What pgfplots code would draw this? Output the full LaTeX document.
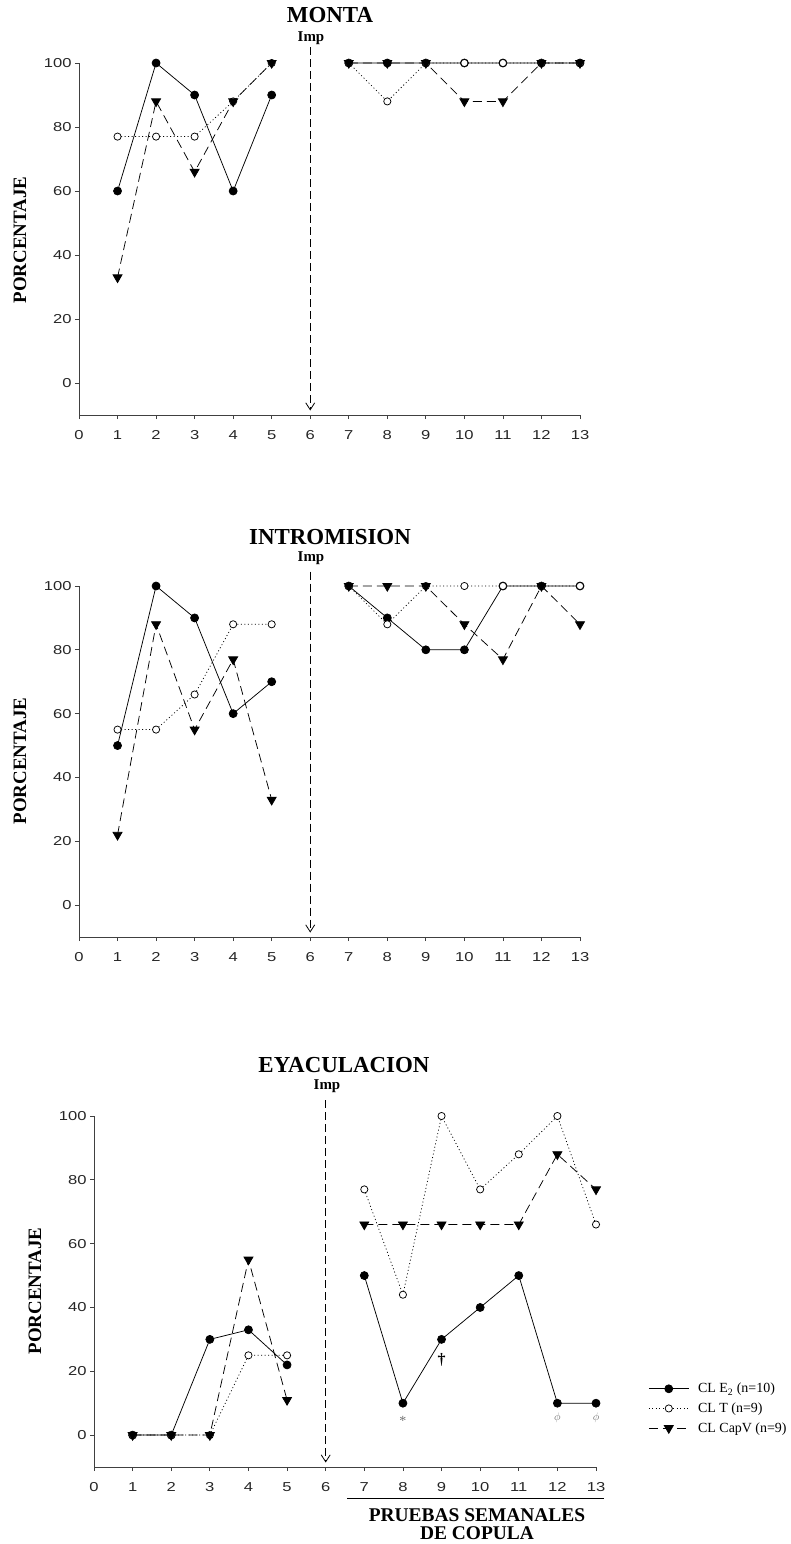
\documentclass[border=0pt]{standalone}
\usepackage{fontspec}
\setmainfont{Liberation Serif}
\newfontfamily\arialfont[FakeStretch=1.28]{Liberation Sans}
\usepackage{pgfplots}
\pgfplotsset{compat=1.18}
\usepackage{pgfplotstable}
\usetikzlibrary{arrows.meta}

% Percentages per weekly copulation test (test 6 = implant, no data)
\pgfplotstableread{
x  e2  t   capv
1  60  77  33
2  100 77  88
3  90  77  66
4  60  88  88
5  90  100 100
6  nan nan nan
7  100 100 100
8  100 88  100
9  100 100 100
10 100 100 88
11 100 100 88
12 100 100 100
13 100 100 100
}\montadata

\pgfplotstableread{
x  e2  t   capv
1  50  55  22
2  100 55  88
3  90  66  55
4  60  88  77
5  70  88  33
6  nan nan nan
7  100 100 100
8  90  88  100
9  80  100 100
10 80  100 88
11 100 100 77
12 100 100 100
13 100 100 88
}\intromdata

\pgfplotstableread{
x  e2  t   capv
1  0   0   0
2  0   0   0
3  30  0   0
4  33  25  55
5  22  25  11
6  nan nan nan
7  50  77  66
8  10  44  66
9  30  100 66
10 40  77  66
11 50  88  66
12 10  100 88
13 10  66  77
}\eyacdata

\tikzset{
  imparrow/.style={black, line width=0.8bp, dash pattern=on 8bp off 4bp,
    -{Straight Barb[length=7bp,width=9bp]}},
}

\pgfplotsset{
  panel/.style={
    scale only axis,
    xmin=0, xmax=13, ymin=-10, ymax=100,
    axis lines=left,
    axis line style={-, line width=0.8bp, black!75},
    every tick/.style={line width=0.8bp, black!75},
    tick align=outside,
    major tick length=4bp,
    xtick={0,...,13},
    ytick={0,20,...,100},
    tick label style={font=\arialfont\fontsize{13}{13}\selectfont, black!85},
    xticklabel style={yshift=-8bp},
    /pgf/number format/assume math mode=true,
    unbounded coords=jump,
    clip=false,
    legend image code/.code={%
      \draw[mark repeat=2,mark phase=2,##1]
        plot coordinates {(0bp,0bp) (20bp,0bp) (40bp,0bp)};},
  },
  e2/.style={black, line width=0.75bp, solid, mark=*, mark size=4bp,
    mark options={solid, fill=black}},
  tt/.style={black, line width=0.75bp, dash pattern=on 1bp off 2.5bp,
    mark=*, mark size=3.6bp, mark options={solid, fill=white, line width=0.75bp}},
  capv/.style={black, line width=0.75bp, dash pattern=on 9bp off 5bp,
    mark=triangle*, mark size=5.2bp, mark options={solid, rotate=180, fill=black}},
}

\begin{document}
\begin{tikzpicture}
\useasboundingbox (0,0) rectangle (791bp,-1544bp);

% ---------- MONTA ----------
\begin{axis}[panel, at={(79bp,-415bp)}, anchor=south west,
  width=501bp, height=352bp]
  \addplot[e2]   table[x=x,y=e2]   {\montadata};
  \addplot[tt]   table[x=x,y=t]    {\montadata};
  \addplot[capv] table[x=x,y=capv] {\montadata};
  \draw[imparrow] (axis cs:6,105) -- (axis cs:6,-8.6);
\end{axis}
\node[font=\bfseries\fontsize{23}{23}\selectfont] at (330bp,-15bp) {MONTA};
\node[font=\bfseries\fontsize{15}{15}\selectfont] at (311bp,-38bp) {Imp};
\node[font=\bfseries\fontsize{19}{19}\selectfont, rotate=90] at (20bp,-240bp) {PORCENTAJE};

% ---------- INTROMISION ----------
\begin{axis}[panel, at={(79bp,-937bp)}, anchor=south west,
  width=501bp, height=351bp]
  \addplot[e2]   table[x=x,y=e2]   {\intromdata};
  \addplot[tt]   table[x=x,y=t]    {\intromdata};
  \addplot[capv] table[x=x,y=capv] {\intromdata};
  \draw[imparrow] (axis cs:6,104.5) -- (axis cs:6,-8.6);
\end{axis}
\node[font=\bfseries\fontsize{23}{23}\selectfont] at (330bp,-537bp) {INTROMISION};
\node[font=\bfseries\fontsize{15}{15}\selectfont] at (311bp,-558bp) {Imp};
\node[font=\bfseries\fontsize{19}{19}\selectfont, rotate=90] at (20bp,-761bp) {PORCENTAJE};

% ---------- EYACULACION ----------
\begin{axis}[panel, at={(94bp,-1467bp)}, anchor=south west,
  width=502bp, height=351bp,
  legend style={at={(1.104,0.245)}, anchor=north west, draw=none, fill=none,
    inner sep=0pt, row sep=4.5bp,
    /tikz/every odd column/.append style={column sep=7bp},
    font=\fontsize{14}{14}\selectfont},
  legend cell align=left]
  \addplot[e2]   table[x=x,y=e2]   {\eyacdata};
  \addlegendentry{CL E\textsubscript{2} (n=10)}
  \addplot[tt]   table[x=x,y=t]    {\eyacdata};
  \addlegendentry{CL T (n=9)}
  \addplot[capv] table[x=x,y=capv] {\eyacdata};
  \addlegendentry{CL CapV (n=9)}
  \draw[imparrow] (axis cs:6,105) -- (axis cs:6,-8.6);
  \node[black!55, font=\fontsize{14}{14}\selectfont] at (axis cs:8,4.3) {*};
  \node[font=\bfseries\fontsize{16}{16}\selectfont] at (axis cs:9,23.5) {†};
  \node[black!55, font=\fontsize{11}{11}\selectfont] at (axis cs:12,5.3) {$\phi$};
  \node[black!55, font=\fontsize{11}{11}\selectfont] at (axis cs:13,5.3) {$\phi$};
  \draw[black, line width=0.8bp] (axis cs:6.56,-19.8) -- (axis cs:13.2,-19.8);
\end{axis}
\node[font=\bfseries\fontsize{23}{23}\selectfont] at (344bp,-1065bp) {EYACULACION};
\node[font=\bfseries\fontsize{15}{15}\selectfont] at (327bp,-1086bp) {Imp};
\node[font=\bfseries\fontsize{19}{19}\selectfont, rotate=90] at (35bp,-1291bp) {PORCENTAJE};
\node[font=\bfseries\fontsize{19.5}{19.5}\selectfont, align=center, inner sep=0pt]
  at (477bp,-1524bp) {PRUEBAS SEMANALES\\[-1bp]DE COPULA};
\end{tikzpicture}
\end{document}
